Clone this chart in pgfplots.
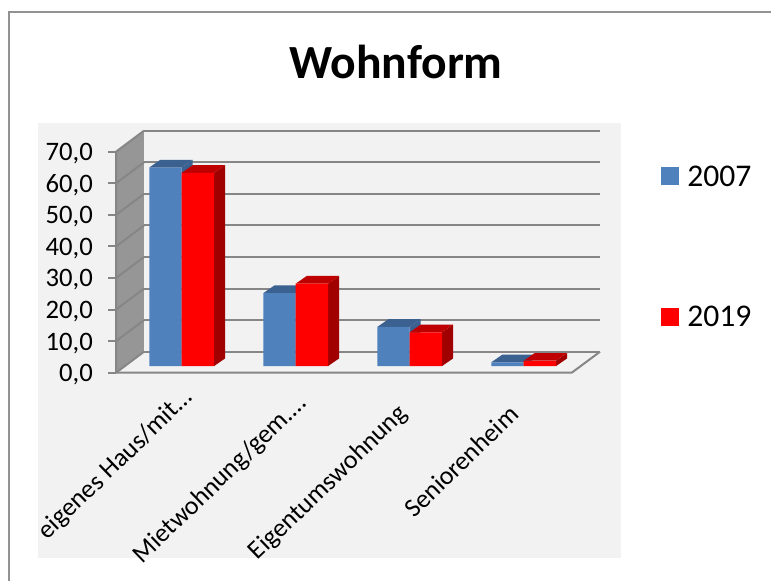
\documentclass[border=0pt]{standalone}
\usepackage{pgfplots}
\pgfplotsset{compat=1.18}
\usepackage{fontspec}
\setmainfont{Carlito}
\definecolor{ablue}{HTML}{4F81BD}
\definecolor{ablueside}{HTML}{3A6190}
\definecolor{ared}{HTML}{FF0000}
\definecolor{aredside}{HTML}{A00000}
\definecolor{aredtop}{HTML}{BE0000}
\definecolor{gridc}{HTML}{868686}
\definecolor{wallc}{HTML}{969696}
\definecolor{panelc}{HTML}{F2F2F2}
\newcommand{\fsz}[1]{\fontsize{#1}{1.2\dimexpr#1pt\relax}\selectfont}
% back-wall gridline and its run across the side wall
\newcommand{\gl}[2]{%
  \addplot[gridc,line width=1.5pt,forget plot] coordinates {(0.2456,#1)(4.2456,#1)};
  \addplot[gridc,line width=1.5pt,forget plot] coordinates {(0,#2)(0.2456,#1)};}
% side and top faces of a bar: xL, xR, value, side colour, top colour
\newcommand{\faces}[5]{%
  \pgfmathsetmacro\xb{#2+0.097}\pgfmathsetmacro\xl{#1+0.097}%
  \pgfmathsetmacro\yt{#3+2.1}\pgfmathsetmacro\ytb{#3+2.1+2.44}%
  \edef\tmp{\noexpand\addplot[fill=#4,draw=none,forget plot] coordinates {(#2,2.1)(\xb,4.54)(\xb,\ytb)(#2,\yt)} -- cycle;
  \noexpand\addplot[fill=#5,draw=none,forget plot] coordinates {(#1,\yt)(\xl,\ytb)(\xb,\ytb)(#2,\yt)} -- cycle;}\tmp}
\begin{document}
\begin{tikzpicture}[x=1pt,y=1pt]
\path[use as bounding box] (0,0) rectangle (578.25,435.75);
\fill[panelc] (28.5,17.25) rectangle (465.5,343.5);
\draw[gridc!90,line width=1.5pt] (6.4,0) -- (6.4,426.8) -- (578.25,426.8);
\begin{axis}[
  at={(87pt,156.2pt)},anchor=south west,
  scale only axis,width=363pt,height=181.5pt,
  xmin=0,xmax=4.2456,ymin=0,ymax=76.65,
  clip=false,
  axis line style={draw=none},
  axis x line*=bottom,axis y line*=left,
  xtick={0.5,1.555,2.535,3.525},
  xticklabels={eigenes Haus/mit…,Mietwohnung/gem.…\kern6pt,Eigentumswohnung\kern17.25pt,Seniorenheim\kern18.5pt},
  x tick style={draw=none},
  xticklabel style={rotate=44,anchor=north east,font=\fsz{19.5},inner sep=0pt,xshift=1.25pt,yshift=-6.75pt},
  ytick={0,10,...,70},
  y tick style={gridc,line width=1.5pt},
  major tick length=6pt,
  tick align=outside,
  yticklabel style={font=\fsz{20},inner sep=0pt,xshift=-11.2pt,yshift=-1.5pt,
    /pgf/number format/.cd,fixed,fixed zerofill,precision=1,use comma,assume math mode=true},
  title={\textbf{Wohnform}},
  title style={font=\fsz{35.7},at={(axis description cs:0.5785,1.252)},anchor=center},
  legend style={draw=none,fill=none,font=\fsz{23.7},at={(axis description cs:1.125,0.868)},anchor=north west,
    row sep=84.5pt,inner sep=0pt,legend cell align=left},
  legend image code/.code={\fill[#1] (0pt,-11.25pt) rectangle (13.5pt,2.25pt);},
]
% side wall
\addplot[fill=wallc,draw=none,forget plot] coordinates {(0,0)(0.2456,6.65)(0.2456,76.65)(0,70)} -- cycle;
\gl{6.65}{0}\gl{16.65}{10}\gl{26.65}{20}\gl{36.65}{30}\gl{46.65}{40}\gl{56.65}{50}\gl{66.65}{60}\gl{76.65}{70}
% floor and front edges
\addplot[gridc,line width=1.5pt,forget plot] coordinates {(0,70)(0,0)(3.9974,0)(4.2456,6.65)};
% 2007
\faces{0.292}{0.576}{62.9}{ablueside}{ablueside}
\faces{1.292}{1.576}{23.1}{ablueside}{ablueside}
\faces{2.292}{2.576}{12.4}{ablueside}{ablueside}
\faces{3.292}{3.576}{1.2}{ablueside}{ablueside}
\addplot[ybar,bar width=24.3pt,bar shift=-5.6pt,yshift=4.95pt,fill=ablue,draw=none]
  coordinates {(0.5,62.9)(1.5,23.1)(2.5,12.4)(3.5,1.2)};
\addlegendentry{\hspace{4.5pt}2007}
% 2019
\faces{0.576}{0.860}{61.2}{aredside}{aredtop}
\faces{1.576}{1.860}{26.1}{aredside}{aredtop}
\faces{2.576}{2.860}{10.7}{aredside}{aredtop}
\faces{3.576}{3.860}{1.7}{aredside}{aredtop}
\addplot[ybar,bar width=24.3pt,bar shift=18.7pt,yshift=4.95pt,fill=ared,draw=none]
  coordinates {(0.5,61.2)(1.5,26.1)(2.5,10.7)(3.5,1.7)};
\addlegendentry{\hspace{4.5pt}2019}
\end{axis}
\end{tikzpicture}
\end{document}
